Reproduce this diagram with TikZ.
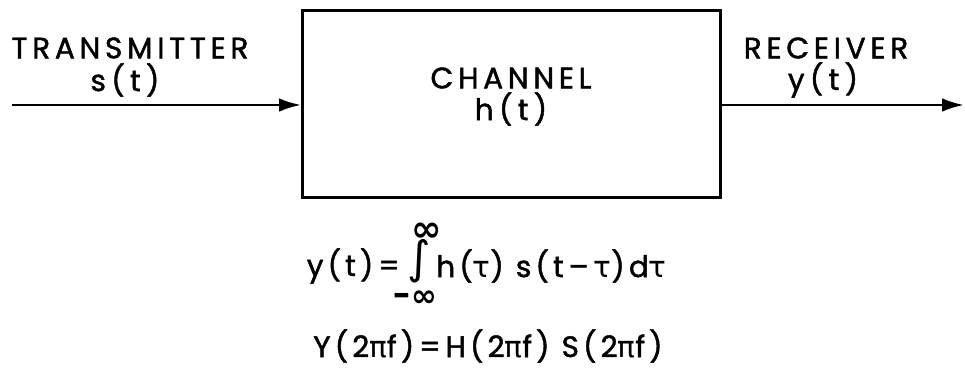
\documentclass[tikz,border=0pt]{standalone}
\usepackage{fontspec}
\setmainfont{Poppins}
\newfontfamily\greekfont{DejaVu Sans}
\usetikzlibrary{arrows.meta,positioning}
\tikzset{
  blk/.style={rectangle,draw,line width=2pt,minimum width=10.45cm,minimum height=4.68cm},
  lbl/.style={font=\fontsize{21}{24}\selectfont\addfontfeature{LetterSpace=16,FakeBold=1.5},inner sep=0pt},
  sig/.style={font=\fontsize{21}{24}\selectfont\addfontfeature{LetterSpace=18,FakeBold=1.5},inner sep=0pt},
  eqn/.style={font=\fontsize{21}{24}\selectfont\addfontfeature{LetterSpace=14,FakeBold=1.5},inner sep=0pt},
  inf/.style={font=\fontsize{26}{26}\selectfont\bfseries,inner sep=0pt},
  flow/.style={-{Latex[length=5.5mm,width=3.4mm]},line width=1.8pt},
}
\newcommand{\gk}[1]{{\greekfont #1}}

\begin{document}
\begin{tikzpicture}[x=0.025cm,y=-0.025cm]
\useasboundingbox (0,0) rectangle (965,385);
% channel block
\node[blk] (channel) at (511.5,104) {};
\node[lbl] (chname) at (511,78) {CHANNEL};
\node[sig] (imp) at (511,109) {h(t)};
% transmitter side
\coordinate (src) at (12,105);
\node[lbl] (tx) at (130,48) {TRANSMITTER};
\node[sig] (sin) at (125,80) {s(t)};
\draw[flow] (src) -- (channel.west |- src);
% receiver side
\coordinate (sink) at (964,105);
\node[lbl] (rx) at (826,48) {RECEIVER};
\node[sig] (yout) at (823,80) {y(t)};
\draw[flow] (channel.east |- sink) -- (sink);
% convolution
\node[eqn,anchor=east] (lhs) at (400,266) {y(t)\,=};
\node[font=\fontsize{32}{32}\selectfont,inner sep=0pt,text height=0.5em,text depth=0.1em]
  (intg) at (419,271) {\gk{∫}};
\node[eqn,anchor=west] (rhs) at (436,266) {h(\gk{τ}) s(t\,–\,\gk{τ})d\gk{τ}};
\node[inf] (upper) at (427,232) {\gk{∞}};
\node[inf] (lower) at (415,299) {\fontsize{22}{22}\selectfont -\gk{∞}};
\node[eqn] (freq) at (488,346) {Y(2\gk{π}f)\,=\,H(2\gk{π}f) S(2\gk{π}f)};
\end{tikzpicture}
\end{document}
